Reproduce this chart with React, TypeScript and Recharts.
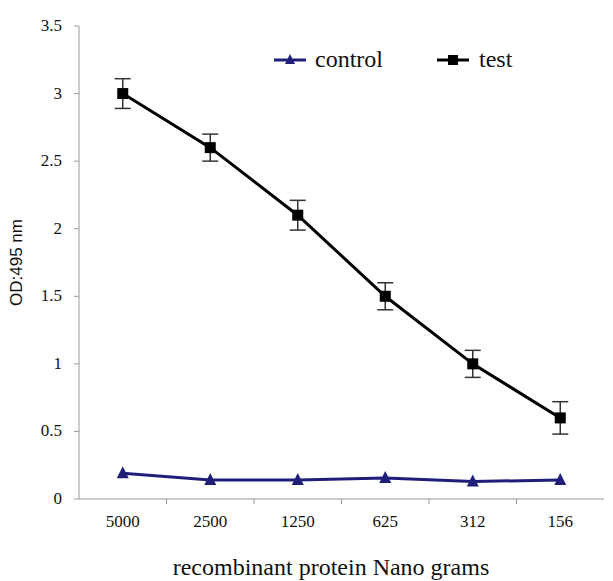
import React from 'react';
import { LineChart, Line, XAxis, YAxis, ErrorBar } from 'recharts';

const categories = ['5000', '2500', '1250', '625', '312', '156'];
const controlValues = [0.19, 0.14, 0.14, 0.155, 0.13, 0.14];
const testValues = [3.0, 2.6, 2.1, 1.5, 1.0, 0.6];
const testErrors = [0.11, 0.1, 0.11, 0.1, 0.1, 0.12];
const yTicks = [0, 0.5, 1, 1.5, 2, 2.5, 3, 3.5];

const data = categories.map((c, i) => ({
  name: c,
  control: controlValues[i],
  test: testValues[i],
  testErr: testErrors[i],
}));

const W = 613;
const H = 581;
const margin = { top: 26, right: 9, bottom: 0, left: 0 };
const yAxisWidth = 79;
const xAxisHeight = 82;
const plotW = W - margin.left - margin.right - yAxisWidth;
const halfBand = plotW / categories.length / 2;

const NAVY = '#1f1f7a';
const AXIS = '#9a9a9a';
const SERIF = 'Liberation Serif, Times New Roman, serif';

const Square = (props: any) => {
  const { cx, cy } = props;
  if (cx == null || cy == null) return null;
  return <rect x={cx - 5.5} y={cy - 5.5} width={11} height={11} fill="#000" />;
};

const Triangle = (props: any) => {
  const { cx, cy } = props;
  if (cx == null || cy == null) return null;
  return <path d={`M${cx},${cy - 7} L${cx + 6},${cy + 5} L${cx - 6},${cy + 5} Z`} fill={NAVY} />;
};

const XTick = (props: any) => {
  const { x, y, payload, index } = props;
  return (
    <g>
      {index < categories.length - 1 && (
        <line x1={x + halfBand} y1={y} x2={x + halfBand} y2={y + 5} stroke={AXIS} />
      )}
      <text x={x} y={y + 28} textAnchor="middle" style={{ fontFamily: SERIF, fontSize: 17 }} fill="#111">
        {payload.value}
      </text>
    </g>
  );
};

const YTick = (props: any) => {
  const { x, y, payload } = props;
  return (
    <text x={x - 6} y={y + 5} textAnchor="end" style={{ fontFamily: SERIF, fontSize: 17 }} fill="#111">
      {payload.value}
    </text>
  );
};

const YLabel = (props: any) => {
  const { viewBox } = props;
  const cy = viewBox.y + viewBox.height / 2;
  return (
    <text
      x={22}
      y={cy}
      transform={`rotate(-90, 22, ${cy})`}
      textAnchor="middle"
      style={{ fontFamily: 'Liberation Sans, Arial, sans-serif', fontSize: 17 }}
      fill="#111"
    >
      OD:495 nm
    </text>
  );
};

const XLabel = () => (
  <text x={331} y={575} textAnchor="middle" style={{ fontFamily: SERIF, fontSize: 24 }} fill="#111">
    recombinant protein Nano grams
  </text>
);

const LegendBox = () => (
  <div
    style={{
      position: 'absolute',
      top: 46,
      left: 272,
      display: 'flex',
      alignItems: 'center',
      fontFamily: SERIF,
      fontSize: 24,
      color: '#111',
    }}
  >
    <svg width={36} height={20}>
      <line x1={2} y1={10} x2={34} y2={10} stroke={NAVY} strokeWidth={3} />
      <path d="M18,4 L23,14 L13,14 Z" fill={NAVY} />
    </svg>
    <span style={{ marginLeft: 7 }}>control</span>
    <svg width={36} height={20} style={{ marginLeft: 52 }}>
      <line x1={2} y1={10} x2={34} y2={10} stroke="#000" strokeWidth={3} />
      <rect x={13} y={5} width={10} height={10} fill="#000" />
    </svg>
    <span style={{ marginLeft: 8 }}>test</span>
  </div>
);

export default function App() {
  return (
    <div style={{ position: 'absolute', left: 0, top: 0, width: W, height: H, background: '#fff' }}>
      <LineChart width={W} height={H} data={data} margin={margin}>
        <XAxis
          dataKey="name"
          height={xAxisHeight}
          stroke={AXIS}
          padding={{ left: halfBand, right: halfBand }}
          tickLine={false}
          tickSize={0}
          tickMargin={0}
          tick={<XTick />}
          interval={0}
          label={<XLabel />}
        />
        <YAxis
          width={yAxisWidth}
          domain={[0, 3.5]}
          ticks={yTicks}
          stroke={AXIS}
          tickSize={5}
          tickMargin={6}
          tick={<YTick />}
          label={<YLabel />}
        />
        <Line
          dataKey="control"
          stroke={NAVY}
          strokeWidth={3}
          dot={<Triangle />}
          activeDot={false}
          isAnimationActive={false}
        />
        <Line
          dataKey="test"
          stroke="#000"
          strokeWidth={3}
          dot={<Square />}
          activeDot={false}
          isAnimationActive={false}
        >
          <ErrorBar dataKey="testErr" width={8} stroke="#333" strokeWidth={1.5} />
        </Line>
      </LineChart>
      <LegendBox />
    </div>
  );
}
